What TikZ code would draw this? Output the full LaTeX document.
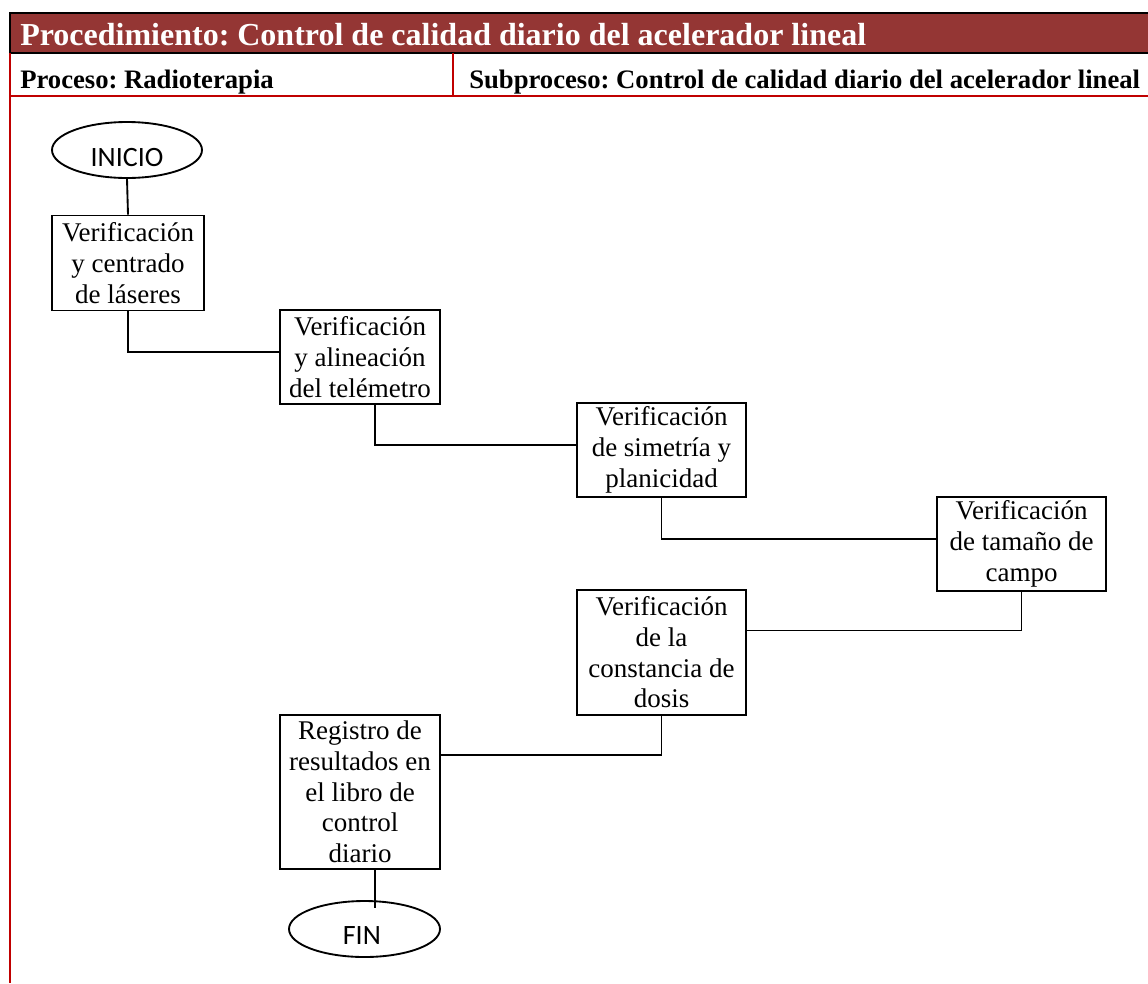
\documentclass[tikz,border=0pt]{standalone}
\usepackage{fontspec}
\setmainfont{Liberation Serif}
\newfontfamily\calib{Carlito}
\usetikzlibrary{shapes.geometric,calc}
\definecolor{hdrbrown}{HTML}{943634}
\definecolor{rulered}{HTML}{C00000}
\frenchspacing
\begin{document}
\begin{tikzpicture}[x=0.75pt,y=-0.75pt,
  stepbox/.style={draw, line width=1.4pt, align=center, inner sep=0pt,
    font=\fontsize{20.25}{23}\selectfont},
  term/.style={draw, ellipse, line width=1.4pt, inner sep=0pt,
    minimum width=112.5pt, minimum height=42pt},
  termtext/.style={font=\calib\fontsize{21}{24}\selectfont},
  conn/.style={line width=1.4pt},
  hdr/.style={anchor=base west, inner sep=0pt}]
\useasboundingbox (0,0) rectangle (1148,983);
% header
\fill[hdrbrown] (10,13) rectangle (1148,53);
\draw[line width=1.6pt] (1148,13) -- (10,13) -- (10,53) -- (1148,53);
\draw[rulered, line width=1.5pt] (10,53) -- (10,983);
\draw[rulered, line width=1.5pt] (10,96) -- (1148,96);
\draw[rulered, line width=1.5pt] (453,53) -- (453,96);
\node[hdr, text=white, font=\fontsize{24}{28}\selectfont\bfseries] (title) at (20,45)
  {Procedimiento: Control de calidad diario del acelerador lineal};
\node[hdr, font=\fontsize{20}{23}\selectfont\bfseries] (proc) at (20,88)
  {Proceso: Radioterapia};
\node[hdr, font=\fontsize{20}{23}\selectfont\bfseries] (sub) at (469,88)
  {Subproceso: Control de calidad diario del acelerador lineal};
% flowchart
\node[term, label={[termtext, yshift=-6pt]center:INICIO}] (ini) at (127,150) {};
\node[stepbox, minimum width=114pt, minimum height=71.25pt] (b1) at (128,263)
  {Verificación\\y centrado\\de láseres};
\node[stepbox, minimum width=120pt, minimum height=70.5pt] (b2) at (360,357)
  {Verificación\\y alineación\\del telémetro};
\node[stepbox, minimum width=126.75pt, minimum height=70.5pt] (b3) at (661.5,450)
  {Verificación\\de simetría y\\planicidad};
\node[stepbox, minimum width=126.75pt, minimum height=70.5pt] (b4) at (1021.5,544)
  {Verificación\\de tamaño de\\campo};
\node[stepbox, minimum width=126.75pt, minimum height=93.75pt] (b5) at (661.5,652.5)
  {Verificación\\de la\\constancia de\\dosis};
\node[stepbox, minimum width=120pt, minimum height=115.5pt] (b6) at (360,792)
  {Registro de\\resultados en\\el libro de\\control\\diario};
\node[term, minimum width=113.25pt, label={[termtext, yshift=-5pt, xshift=-2pt]center:FIN}] (fin) at (364.5,929) {};
% connectors
\draw[conn] (ini.south) -- (b1.north);
\draw[conn] (b1.south) |- ([yshift=3.75pt]b2.west);
\draw[conn] ([xshift=11.25pt]b2.south) |- ([yshift=3.75pt]b3.west);
\draw[conn] (b3.south) |- ([yshift=3.75pt]b4.west);
\draw[conn] (b4.south) |- ([yshift=16.5pt]b5.east);
\draw[conn] (b5.south) |- ([yshift=27.75pt]b6.east);
\coordinate (f1) at ([xshift=11.25pt]b6.south);
\coordinate (f2) at ($(f1 |- fin.north)+(0,-6pt)$);
\draw[conn] (f1) -- (f2);
\end{tikzpicture}
\end{document}
